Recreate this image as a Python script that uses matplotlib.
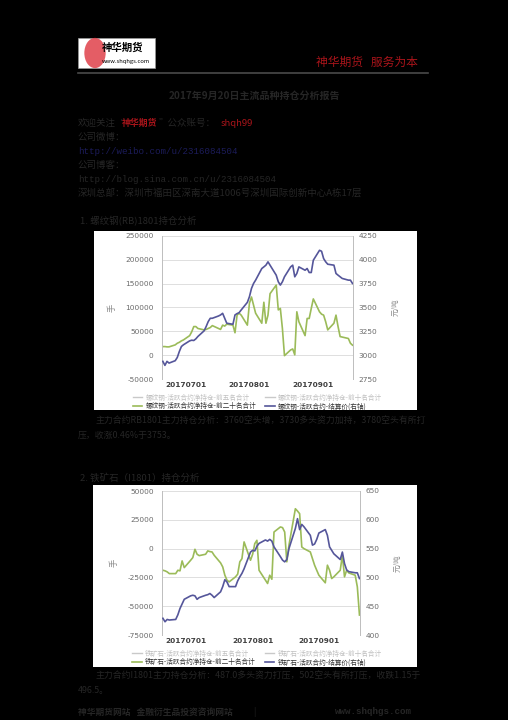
import matplotlib
matplotlib.use("Agg")
import matplotlib.pyplot as plt
from matplotlib.patches import Rectangle, Circle
from matplotlib.lines import Line2D
import pandas as pd

plt.rcParams['font.family'] = ['Noto Sans CJK SC', 'DejaVu Sans']

# ---------------- data ----------------
dates = pd.bdate_range('2017-06-20', '2017-09-20')

rb_net20 = [18000, 18000, 17400, 17400, 21600, 25000, 27000, 30000, 32000,
            41000, 49000, 60000, 60000, 56000, 53000, 54000, 56000, 58000, 62000, 56000,
            54000, 63000, 61000, 65000, 63000, 47000, 84000, 88000, 84000, 63000,
            109000, 122000, 105000, 88000, 67000, 111000, 67000, 84000, 129000, 147000,
            95000, 98000, 56000, -1000, 11000, 13000, 700, 91000, 70000, 41000,
            77000, 77000, 98000,
            118000, 91000, 86000, 84000, 70000, 53000, 67000, 84000, 60000, 39000,
            38000, 35000, 25000, 21000]
rb_price = [2935, 2893, 2935, 2917, 2942, 2976, 3039, 3091, 3109,
            3150, 3157, 3154, 3171, 3196, 3255, 3300, 3352, 3387, 3387, 3411,
            3422, 3439, 3387, 3335, 3324, 3422, 3436, 3446, 3474, 3554,
            3613, 3700, 3752, 3787, 3909, 3926, 3944, 3979, 3944, 3839,
            3770, 3735, 3770, 3822, 3926, 3944, 3822, 3857, 3926, 3891,
            3909, 3867, 3867,
            3996, 4100, 4090, 4013, 3979, 3954, 3944, 3857, 3839, 3822,
            3805, 3787, 3787, 3752]

i_net20 = [-18800, -19300, -20200, -21700, -21700, -18800, -19300, -10700, -16500,
           -10100, -7800, -600, -4900, -6100, -4900, -2000, -2600, -2900, -5800,
           -12400, -15900, -23100, -27400, -28900, -24500, -22200, -11500, -8700, 5800, -10100,
           -4900, 4300, 7200, -18800, -27400, -30300, -23100, -26600, 14400, 18800,
           18200, 14400, -11500, 2900, 34600, 32600, 30300, 1400, 0, -2900,
           -8700, -14400, -18800,
           -23100, -29700, -14400, -18800, -26000, -24500, -18800, -5800, -24500, -18800,
           -21100, -23100, -33200, -57700]
i_price = [429, 423, 427, 426, 427, 435, 446, 454, 462,
           468, 469, 468, 462, 465, 469, 470, 472, 469, 465,
           475, 484, 496, 492, 484, 484, 494, 501, 507, 515, 544,
           547, 546, 554, 559, 565, 563, 566, 563, 553, 536,
           530, 527, 531, 550, 585, 602, 583, 592, 588, 573,
           556, 558, 566,
           577, 583, 573, 553, 547, 541, 531, 544, 524, 513,
           510, 508, 508, 498]

xtick_dates = ['2017-07-01', '2017-08-01', '2017-09-01']
xtick_labels = ['20170701', '20170801', '20170901']

rb_left_ticks = [-50000, 0, 50000, 100000, 150000, 200000, 250000]
rb_right_ticks = [2750, 3000, 3250, 3500, 3750, 4000, 4250]
i_left_ticks = [-75000, -50000, -25000, 0, 25000, 50000]
i_right_ticks = [400, 450, 500, 550, 600, 650]

rb_legend = ['螺纹钢-活跃合约净持仓-前五名合计', '螺纹钢-活跃合约净持仓-前十名合计',
             '螺纹钢-活跃合约净持仓-前二十名合计', '螺纹钢-活跃合约-结算价(右轴)']
i_legend = ['铁矿石-活跃合约净持仓-前五名合计', '铁矿石-活跃合约净持仓-前十名合计',
            '铁矿石-活跃合约净持仓-前二十名合计', '铁矿石-活跃合约-结算价(右轴)']

# ---------------- figure ----------------
W, H = 508, 720
fig = plt.figure(figsize=(W / 100, H / 100), dpi=100, facecolor='black')

TXT = '#262626'
RED = '#a8141a'

def fx(x):
    return x / W

def fy(y):
    return 1 - y / H

def ptext(x, y, s, **kw):
    kw.setdefault('color', TXT)
    kw.setdefault('fontsize', 7)
    kw.setdefault('va', 'center')
    fig.text(fx(x), fy(y), s, **kw)

# header / logo
fig.patches.append(Rectangle((fx(78), fy(68)), fx(155) - fx(78), fy(38) - fy(68),
                             transform=fig.transFigure, facecolor='white', edgecolor='#999999', lw=0.5))
fig.patches.append(Circle((fx(95), fy(53)), 0.021, transform=fig.transFigure,
                          facecolor='#e0404a', edgecolor='none', alpha=0.85))
ptext(123, 48, '神华期货', color='black', fontsize=7.5, fontweight='bold', ha='center', zorder=5)
ptext(126, 62, 'www.shqhgs.com', color='black', fontsize=4.2, ha='center', zorder=5)
ptext(367, 62, '神华期货   服务为本', color=RED, fontsize=8.5, ha='center')
fig.lines.append(Line2D([fx(78), fx(428)], [fy(72.5), fy(72.5)], transform=fig.transFigure,
                        color='#4a4a4a', lw=1.2))

ptext(254, 96, '2017年9月20日主流品种持仓分析报告', fontsize=7.2, ha='center', fontweight='bold')

ptext(78, 123, '欢迎关注“', fontsize=6.8)
ptext(122, 123, '神华期货', fontsize=6.4, color=RED, fontweight='bold')
ptext(159, 123, '”公众账号：', fontsize=6.8)
ptext(221, 123, 'shqh99', fontsize=6.8, color=RED)
ptext(78, 137, '公司微博：', fontsize=6.8)
ptext(78, 151, 'http://weibo.com/u/2316084504', fontsize=6.6, color='#1c1c5a', family='Liberation Mono')
ptext(78, 165, '公司博客：', fontsize=6.8)
ptext(78, 179, 'http://blog.sina.com.cn/u/2316084504', fontsize=6.6, family='Liberation Mono')
ptext(78, 193, '深圳总部：深圳市福田区深南大道1006号深圳国际创新中心A栋17层', fontsize=6.8)

ptext(80, 221, '1. 螺纹钢(RB)1801持仓分析', fontsize=6.8)
ptext(96, 421, '主力合约RB1801主力持仓分析：3760空头增，3730多头资力加持，3780空头有所打', fontsize=6.4)
ptext(78, 435, '压，收涨0.46%于3753。', fontsize=6.4)
ptext(80, 478, '2. 铁矿石（I1801）持仓分析', fontsize=6.8)
ptext(96, 676, '主力合约I1801主力持仓分析：487.0多头资力打压，502空头有所打压，收跌1.15于', fontsize=6.4)
ptext(78, 691, '496.5。', fontsize=6.4)
ptext(78, 712, '神华期货网站   金融衍生品投资咨询网站', fontsize=6.3, fontweight='bold')
ptext(253, 712, '|', fontsize=6)
ptext(335, 712, 'www.shqhgs.com', fontsize=6.6, family='Liberation Mono', fontweight='bold')

GREEN = '#9bbb59'
BLUE = '#55569a'
FADE = '#c9c9c9'


def chart(panel, axbox, net, price, lticks, rticks, legend_labels, leg_y):
    px0, py0, px1, py1 = panel
    fig.patches.append(Rectangle((fx(px0), fy(py1)), fx(px1) - fx(px0), fy(py0) - fy(py1),
                                 transform=fig.transFigure, facecolor='white', edgecolor='none', zorder=-5))
    ax0, ay0, ax1_, ay1 = axbox
    ax = fig.add_axes([fx(ax0), fy(ay1), fx(ax1_) - fx(ax0), fy(ay0) - fy(ay1)])
    ax.set_zorder(1)
    ax.set_facecolor('white')
    l1, = ax.plot(dates, net, color=GREEN, lw=1.2, zorder=3)
    ax.set_ylim(lticks[0], lticks[-1])
    ax.set_yticks(lticks)
    ax.set_yticklabels([str(t) for t in lticks], fontsize=5.3, color='#6a6a6a', family='DejaVu Sans')
    ax.grid(axis='y', color='#d9d9d9', lw=0.6)
    ax.set_xlim(pd.Timestamp('2017-06-19 14:00'), pd.Timestamp('2017-09-20 06:00'))
    ax.set_xticks(pd.to_datetime(xtick_dates))
    ax.set_xticklabels(xtick_labels, fontsize=5.3, color='#404040', fontweight='bold', family='DejaVu Sans')
    ax.tick_params(axis='x', length=0, pad=2.5)
    ax.tick_params(axis='y', length=0, pad=6)
    ax.set_ylabel('手', fontsize=6, color='#8a8a8a', labelpad=6)
    axr = ax.twinx()
    axr.set_zorder(2)
    axr.patch.set_visible(False)
    l2, = axr.plot(dates, price, color=BLUE, lw=1.2, zorder=4)
    axr.set_ylim(rticks[0], rticks[-1])
    axr.set_yticks(rticks)
    axr.set_yticklabels([str(t) for t in rticks], fontsize=5.3, color='#6a6a6a', family='DejaVu Sans')
    axr.tick_params(length=0, pad=4)
    axr.set_ylabel('元/吨', fontsize=5.3, color='#8a8a8a', labelpad=10, rotation=90)
    for a in (ax, axr):
        a.spines['top'].set_visible(False)
        a.spines['bottom'].set_visible(False)
        a.spines['left'].set_color('#bfbfbf')
        a.spines['right'].set_color('#bfbfbf')
        a.spines['left'].set_linewidth(0.7)
        a.spines['right'].set_linewidth(0.7)
    h_five = Line2D([], [], color=FADE, lw=1.0)
    h_ten = Line2D([], [], color=FADE, lw=1.0)
    handles = [h_five, l1, h_ten, l2]
    labels = [legend_labels[0], legend_labels[2], legend_labels[1], legend_labels[3]]
    leg = fig.legend(handles, labels, loc='center', ncol=2,
                     bbox_to_anchor=(fx((px0 + px1) / 2 + 2), fy(leg_y)),
                     frameon=False, fontsize=4.8, handlelength=1.4, handletextpad=0.5,
                     columnspacing=1.4, labelspacing=0.1, borderpad=0.1)
    leg.set_zorder(5)
    for t, c in zip(leg.get_texts(), ['#c0c0c0', '#333333', '#c0c0c0', '#333333']):
        t.set_color(c)
    return ax


chart((94, 231, 417, 410), (162, 236, 353, 379), rb_net20, rb_price,
      rb_left_ticks, rb_right_ticks, rb_legend, 402)
chart((93, 485, 417, 667), (162, 491, 360, 635), i_net20, i_price,
      i_left_ticks, i_right_ticks, i_legend, 658)

fig.savefig('out.png', dpi=100, facecolor='black')
